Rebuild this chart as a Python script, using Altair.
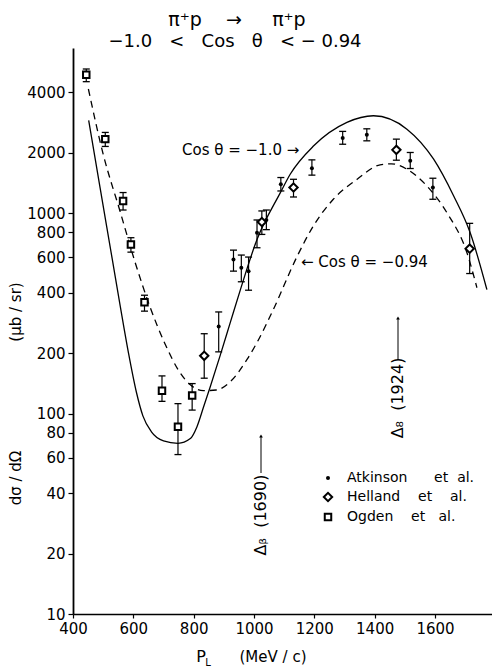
import altair as alt
import pandas as pd

FONT = "DejaVu Sans"

# Atkinson et al.: momentum (MeV/c), cross section (ub/sr), error limits
atk_p = [883, 932, 958, 982, 1010, 1041, 1089, 1192, 1294, 1374, 1518, 1593]
atk_v = [272, 587, 533, 513, 798, 923, 1391, 1673, 2364, 2455, 1820, 1340]
atk_lo = [203, 513, 454, 412, 671, 826, 1288, 1545, 2203, 2291, 1667, 1171]
atk_hi = [321, 653, 617, 603, 923, 1035, 1503, 1841, 2553, 2630, 2004, 1491]

# Helland et al.
hel_p = [835, 1026, 1131, 1472, 1715]
hel_v = [194, 902, 1340, 2065, 664]
hel_lo = [150, 782, 1202, 1834, 499]
hel_hi = [250, 1024, 1473, 2336, 888]

# Ogden et al.
ogd_p = [444, 507, 566, 592, 637, 695, 748, 795]
ogd_v = [4898, 2336, 1148, 697, 359, 130, 86, 123]
ogd_lo = [4519, 2148, 1035, 638, 324, 115, 62.4, 104]
ogd_hi = [5227, 2523, 1265, 753, 389, 154, 112, 141]

# Model curve, cos(theta) = -1.0
c100_p = [452, 490, 530, 557, 584, 610, 632, 660, 700, 748, 789, 811, 833,
          855, 888, 921, 955, 1010, 1087, 1120, 1198, 1308, 1396, 1507, 1595,
          1662, 1717, 1772]
c100_v = [2900, 1330, 590, 340, 200, 128, 97, 81, 73, 71, 75, 86, 108,
          136, 195, 283, 415, 738, 1260, 1560, 2163, 2830, 3055, 2620, 1860,
          1216, 795, 415]

# Model curve, cos(theta) = -0.94
c094_p = [451, 500, 556, 606, 656, 706, 749, 789, 832, 875, 921, 977, 1010,
          1064, 1143, 1196, 1263, 1342, 1418, 1455, 1507, 1573, 1640, 1706,
          1739]
c094_v = [4155, 1966, 1020, 567, 338, 221, 165, 139, 130, 131, 144, 186, 226,
          330, 608, 858, 1171, 1474, 1740, 1760, 1653, 1365, 1001, 633, 424]

x_ticks = [400, 600, 800, 1000, 1200, 1400, 1600]
y_ticks = [10, 20, 40, 60, 80, 100, 200, 400, 600, 800, 1000, 2000, 4000]


def frame(p, v, lo=None, hi=None):
    d = {"p": p, "v": v}
    if lo is not None:
        d["lo"] = lo
        d["hi"] = hi
    return pd.DataFrame(d)


atk = frame(atk_p, atk_v, atk_lo, atk_hi)
hel = frame(hel_p, hel_v, hel_lo, hel_hi)
ogd = frame(ogd_p, ogd_v, ogd_lo, ogd_hi)
c100 = frame(c100_p, c100_v)
c094 = frame(c094_p, c094_v)

xs = alt.Scale(domain=[400, 1789], nice=False, zero=False)
ys = alt.Scale(type="log", domain=[10, 6653], nice=False)

X = alt.X("p:Q", scale=xs, axis=alt.Axis(
    values=x_ticks, format="d", title=None, grid=False,
    tickSize=4, tickColor="black", tickWidth=1.2,
    domainColor="black", domainWidth=1.6,
    labelFont=FONT, labelFontSize=15, labelColor="black", labelPadding=3,
    labelFlush=False))
Y = alt.Y("v:Q", scale=ys, axis=alt.Axis(
    values=y_ticks, format="d", title=None, grid=False,
    tickSize=5, tickColor="black", tickWidth=1.2,
    domainColor="black", domainWidth=1.8,
    labelFont=FONT, labelFontSize=15, labelColor="black", labelPadding=3,
    labelFlush=False))

line_solid = alt.Chart(c100).mark_line(
    color="black", strokeWidth=1.3, interpolate="monotone"
).encode(x=X, y=Y, order="p:Q")

line_dash = alt.Chart(c094).mark_line(
    color="black", strokeWidth=1.3, strokeDash=[7, 5], interpolate="monotone"
).encode(x=alt.X("p:Q", scale=xs), y=alt.Y("v:Q", scale=ys), order="p:Q")


def errorbars(df):
    base = alt.Chart(df)
    stem = base.mark_rule(color="black", strokeWidth=1.2).encode(
        x=alt.X("p:Q", scale=xs), y=alt.Y("lo:Q", scale=ys), y2="hi:Q")
    cap_hi = base.mark_rule(color="black", strokeWidth=1.3,
                            xOffset=-3.5, x2Offset=3.5).encode(
        x=alt.X("p:Q", scale=xs), x2="p:Q", y=alt.Y("hi:Q", scale=ys))
    cap_lo = base.mark_rule(color="black", strokeWidth=1.3,
                            xOffset=-3.5, x2Offset=3.5).encode(
        x=alt.X("p:Q", scale=xs), x2="p:Q", y=alt.Y("lo:Q", scale=ys))
    return [stem, cap_hi, cap_lo]


pos = dict(x=alt.X("p:Q", scale=xs), y=alt.Y("v:Q", scale=ys))

atk_pts = alt.Chart(atk).mark_circle(color="black", size=16, opacity=1).encode(**pos)
hel_pts = alt.Chart(hel).mark_point(
    shape="diamond", filled=True, fill="white", stroke="black",
    strokeWidth=2, size=70, opacity=1).encode(**pos)
ogd_pts = alt.Chart(ogd).mark_point(
    shape="square", filled=True, fill="white", stroke="black",
    strokeWidth=2, size=42, opacity=1).encode(**pos)

one = pd.DataFrame({"k": [0]})


def label(text, x, y, size=15, angle=0, align="center"):
    # non-breaking spaces keep the wide hand-lettered spacing
    props = dict(text=text.replace(" ", "\u00a0"), font=FONT, fontSize=size,
                 color="black", align=align, baseline="middle")
    if angle:
        props["angle"] = angle
    return alt.Chart(one).mark_text(**props).encode(
        x=alt.value(x), y=alt.value(y))


def rule(x, y, y2):
    return alt.Chart(one).mark_rule(color="black", strokeWidth=1).encode(
        x=alt.value(x), y=alt.value(y), y2=alt.value(y2))


def head(x, y):
    return alt.Chart(one).mark_point(
        shape="triangle-up", filled=True, color="black", size=14, opacity=1
    ).encode(x=alt.value(x), y=alt.value(y))


def legend_mark(kind, y):
    if kind == "dot":
        m = alt.Chart(one).mark_circle(color="black", size=16, opacity=1)
    elif kind == "diamond":
        m = alt.Chart(one).mark_point(shape="diamond", filled=True, fill="white",
                                      stroke="black", strokeWidth=2, size=70,
                                      opacity=1)
    else:
        m = alt.Chart(one).mark_point(shape="square", filled=True, fill="white",
                                      stroke="black", strokeWidth=2, size=42,
                                      opacity=1)
    return m.encode(x=alt.value(255), y=alt.value(y))


texts = [
    # titles
    label("π⁺p    →     π⁺p", 164, -28, size=19),
    label("−1.0   <   Cos   θ   < − 0.94", 162, -6, size=18),
    # axis titles
    label("dσ / dΩ", -57, 430, angle=270),
    label("(μb / sr)", -57, 264, angle=270),
    label("P", 128, 609, size=16),
    label("L", 135, 615, size=10),
    label("(MeV / c)", 200, 609),
    # curve labels
    label("Cos θ = −1.0 →", 109, 102, align="left"),
    label("← Cos θ = −0.94", 228, 214, align="left"),
    # resonance markers
    label("Δᵦ  (1690)", 188, 467, size=16, angle=270),
    rule(188, 389, 425),
    head(188, 388),
    label("Δ₈  (1924)", 325, 350, size=16, angle=270),
    rule(325, 271, 312),
    head(325, 270),
    # legend
    legend_mark("dot", 430),
    legend_mark("diamond", 449),
    legend_mark("square", 469),
    label("Atkinson      et  al.", 274, 430, size=14, align="left"),
    label("Helland    et    al.", 274, 449, size=14, align="left"),
    label("Ogden    et   al.", 274, 469, size=14, align="left"),
]

layers = [line_solid, line_dash]
layers += errorbars(atk) + errorbars(hel) + errorbars(ogd)
layers += [atk_pts, hel_pts, ogd_pts]
layers += texts

chart = alt.layer(*layers).properties(
    width=419,
    height=566,
    autosize=alt.AutoSizeParams(type="none"),
    padding={"left": 73, "top": 48, "right": 0, "bottom": 57},
    background="white",
).configure_view(stroke=None)

chart.save("out.html", embed_options={"renderer": "svg", "actions": False})
